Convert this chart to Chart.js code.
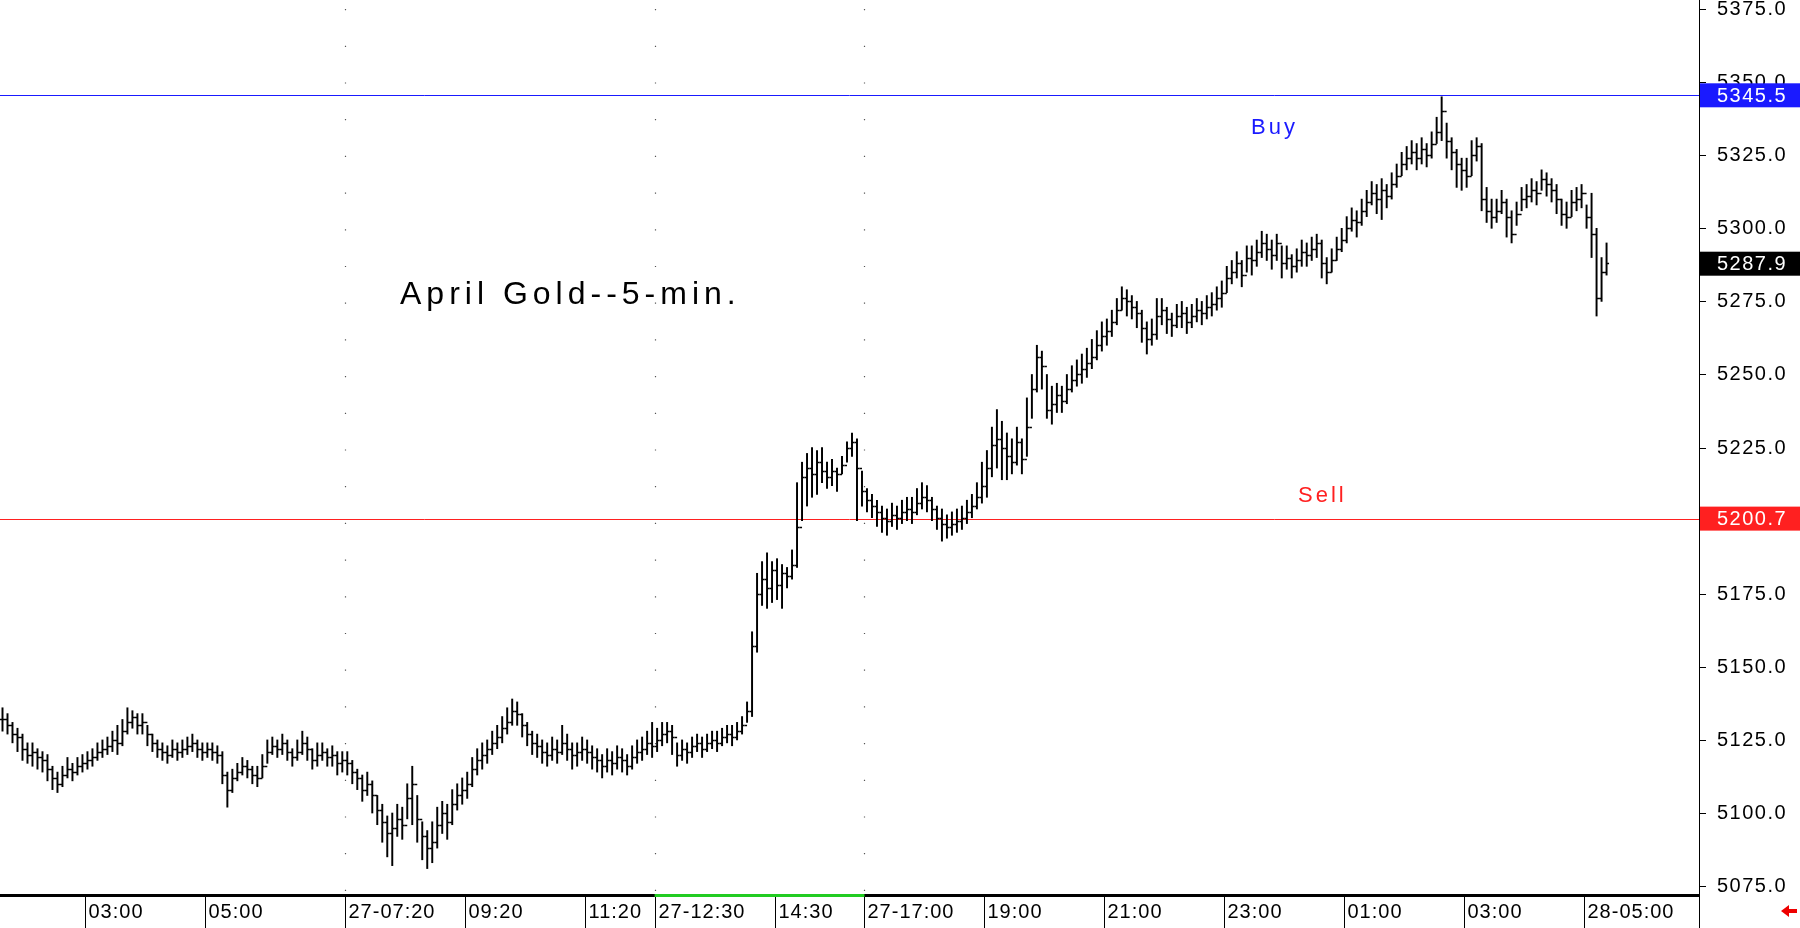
<!DOCTYPE html>
<html>
<head>
<meta charset="utf-8">
<script src="https://cdn.jsdelivr.net/npm/chart.js@4.4.1/dist/chart.umd.min.js"></script>
<style>
  html, body { margin: 0; padding: 0; background: #fff; }
  #wrap { width: 1800px; height: 928px; }
</style>
</head>
<body>
<div id="wrap"><canvas id="goldChart"></canvas></div>
<script>
// 5-minute bars
const closes = [
  5132,5130,5127,5126,5122,5120,5121,5119,5118,5115,5112,5110,5113,5115,5114,5116,5117,
  5118,5119,5121,5122,5123,5125,5124,5128,5131,5133,5130,5131,5127,5124,5122,5121,5120,5122,5121,5122,5123,5124,5122,5121,
  5122,5121,5120,5113,5108,5112,5114,5116,5115,5113,5112,5116,5121,5123,5122,5124,5121,5119,5121,5124,5122,5118,5120,5121,5119,5120,5117,5118,
  5117,5114,5112,5108,5110,5106,5101,5097,5093,5095,5098,5096,5105,5110,5098,5092,5088,5090,5096,5100,5097,5103,5106,5108,
  5110,5115,5118,5120,5122,5124,5126,5129,5131,5135,5134,5130,5127,5124,5123,5121,5120,5122,5121,5124,5122,5120,5121,5122,
  5121,5119,5118,5116,5118,5117,5119,5118,5116,5119,5121,5122,5124,5123,
  5125,5127,5128,5126,5120,5122,5121,5123,5124,5122,5124,5125,5124,5126,5127,5126,5128,5130,5135,
  5157,5175,5180,5177,5183,
  5178,5182,5181,5185,5198,5215,5218,5216,5220,5217,5215,5217,5216,5219,5225,5227,5218,5210,
  5207,5205,5203,5201,5200,5202,5201,5203,5204,5203,5206,5208,5207,5204,5201,5199,5198,5199,5200,5201,5203,5205,5208,5212,
  5218,5226,5228,5225,5222,5220,5227,5221,5232,5245,5256,5253,5238,5240,5243,5241,5245,5248,5250,5252,5254,5256,5260,5263,
  5265,5268,5272,5276,5275,5273,5271,5266,5262,5264,5270,5272,5269,5267,5270,5271,5268,5270,5272,5271,5273,5274,5276,5278,
  5283,5285,5288,5284,5290,5289,5292,5295,5293,5291,5295,5288,5290,5287,5289,5292,5291,5293,5295,5288,5285,5289,5293,5296,
  5300,5303,5302,5306,5309,5312,5310,5313,5311,5315,5318,5322,5324,5326,5324,5327,5325,5329,5333,5340,5330,5326,5322,5320,
  5318,5325,5328,5310,5306,5304,5306,5309,5304,5298,5305,5310,5311,5313,5312,5317,5315,5313,5310,5305,5304,5309,5310,5312,
  5304,5298,5276,5285,5288
];
const highs = [
  5136,5134,5131,5129,5127,5124,5124,5122,5121,5120,5116,5114,5116,5119,5117,5119,5120,
  5121,5122,5124,5125,5126,5128,5130,5132,5136,5135,5134,5134,5130,5127,5125,5124,5123,5125,5124,5125,5126,5127,5125,5124,
  5124,5124,5123,5121,5114,5115,5117,5119,5118,5116,5116,5120,5125,5126,5125,5127,5125,5122,5125,5128,5126,5122,5124,5124,5122,5123,5121,5121,
  5121,5118,5115,5113,5114,5111,5106,5103,5099,5100,5103,5102,5110,5116,5106,5097,5094,5097,5102,5104,5103,5108,5110,5112,
  5114,5119,5122,5124,5125,5128,5130,5133,5136,5139,5138,5134,5131,5128,5127,5125,5124,5126,5125,5130,5127,5124,5124,5126,
  5125,5123,5122,5120,5122,5121,5123,5122,5120,5123,5125,5126,5128,5131,
  5129,5131,5131,5130,5124,5125,5124,5126,5127,5126,5127,5128,5128,5129,5130,5130,5131,5133,5138,
  5162,5182,5186,5189,5186,
  5187,5185,5184,5190,5213,5220,5223,5225,5224,5225,5220,5221,5218,5222,5227,5230,5228,5217,
  5211,5209,5207,5205,5204,5206,5205,5207,5208,5208,5211,5213,5212,5208,5205,5204,5202,5203,5204,5205,5207,5209,5213,5220,
  5224,5232,5238,5234,5230,5228,5232,5228,5242,5250,5260,5258,5250,5246,5247,5246,5250,5253,5255,5257,5259,5262,5265,5268,
  5269,5272,5276,5280,5279,5277,5275,5272,5268,5269,5276,5276,5273,5271,5274,5275,5273,5274,5276,5275,5277,5278,5280,5282,
  5287,5289,5292,5289,5294,5294,5296,5299,5298,5296,5298,5294,5294,5291,5293,5296,5295,5297,5298,5296,5290,5293,5297,5300,
  5304,5307,5306,5310,5313,5316,5315,5317,5315,5319,5322,5326,5328,5330,5329,5331,5329,5333,5338,5345,5336,5331,5327,5324,
  5324,5330,5331,5329,5314,5310,5310,5313,5310,5306,5309,5314,5315,5317,5316,5320,5319,5317,5315,5310,5309,5313,5314,5315,
  5308,5312,5300,5290,5295
];
const lows = [
  5128,5127,5124,5121,5118,5117,5116,5115,5114,5111,5108,5107,5109,5112,5111,5113,5114,
  5115,5116,5118,5119,5120,5121,5120,5123,5127,5129,5127,5127,5123,5121,5119,5118,5117,5119,5118,5119,5120,5121,5119,5118,
  5119,5118,5117,5110,5102,5107,5111,5113,5112,5110,5109,5112,5117,5120,5119,5120,5118,5116,5118,5120,5118,5115,5116,5118,5116,5116,5113,5114,
  5113,5110,5108,5104,5106,5100,5096,5090,5085,5082,5092,5091,5098,5096,5090,5084,5081,5083,5088,5093,5091,5096,5101,5103,
  5105,5109,5113,5115,5117,5120,5122,5124,5127,5130,5130,5126,5123,5120,5119,5117,5116,5118,5117,5120,5118,5115,5116,5118,
  5117,5115,5114,5112,5114,5113,5115,5114,5113,5115,5117,5118,5120,5119,
  5121,5123,5124,5120,5116,5118,5117,5119,5121,5119,5121,5122,5121,5123,5124,5123,5125,5127,5131,
  5133,5155,5171,5170,5172,
  5173,5170,5177,5180,5184,5200,5205,5208,5209,5213,5211,5212,5210,5216,5220,5222,5200,5205,
  5203,5201,5198,5196,5195,5198,5197,5199,5200,5199,5202,5204,5203,5200,5197,5193,5194,5195,5196,5197,5199,5201,5204,5206,
  5208,5215,5218,5214,5214,5216,5219,5216,5222,5235,5244,5245,5235,5233,5237,5237,5240,5244,5246,5247,5249,5252,5255,5258,
  5260,5263,5267,5272,5270,5269,5266,5261,5257,5260,5262,5267,5264,5263,5266,5266,5264,5266,5268,5267,5269,5270,5272,5273,
  5278,5281,5283,5280,5285,5284,5287,5290,5289,5286,5289,5283,5286,5283,5285,5287,5287,5289,5290,5283,5281,5285,5289,5292,
  5295,5299,5297,5301,5304,5308,5305,5303,5307,5310,5314,5318,5320,5322,5320,5322,5321,5324,5329,5330,5324,5320,5314,5313,
  5314,5318,5323,5306,5302,5300,5302,5305,5297,5295,5301,5306,5307,5309,5308,5313,5311,5309,5305,5301,5300,5304,5306,5307,
  5300,5290,5270,5275,5284
];
const totalSlots = 340;
const timeLabelIdx = [17, 41, 69, 93, 117, 131, 155, 173, 197, 221, 245, 269, 293, 317];
const timeLabels = ['03:00','05:00','27-07:20','09:20','11:20','27-12:30','14:30','27-17:00','19:00','21:00','23:00','01:00','03:00','28-05:00'];
const sessionIdx = [69, 131, 173];
const priceTicks = [5375,5350,5325,5300,5275,5250,5225,5200,5175,5150,5125,5100,5075];
const buyLevel = 5345.5;
const sellLevel = 5200.7;
const lastPrice = 5287.9;

const labels = [];
for (let i = 0; i < totalSlots; i++) labels.push(i);
const ranges = lows.map((l, i) => [l, highs[i]]);

const FONT = '"Liberation Sans", Arial, sans-serif';

const goldPlugin = {
  id: 'goldPlugin',
  beforeDatasetsDraw(chart) {
    const { ctx, chartArea: a, scales: { x, y } } = chart;
    ctx.save();
    ctx.strokeStyle = '#555';
    ctx.lineWidth = 1.2;
    ctx.setLineDash([1.2, 35.5]);
    sessionIdx.forEach(i => {
      const px = Math.round(x.getPixelForValue(i) - 2.5) + 0.5;
      ctx.beginPath(); ctx.moveTo(px, a.top + 9); ctx.lineTo(px, a.bottom); ctx.stroke();
    });
    ctx.setLineDash([]);
    ctx.lineWidth = 1;
    [[buyLevel, '#1a1aff'], [sellLevel, '#ff2020']].forEach(([v, c]) => {
      const py = Math.round(y.getPixelForValue(v)) + 0.5;
      ctx.strokeStyle = c;
      ctx.beginPath(); ctx.moveTo(a.left, py); ctx.lineTo(a.right, py); ctx.stroke();
    });
    ctx.restore();
  },
  afterDatasetsDraw(chart) {
    const { ctx, chartArea: a, scales: { x, y } } = chart;
    ctx.save();
    ctx.strokeStyle = '#000';
    ctx.lineWidth = 1.3;
    closes.forEach((c, i) => {
      const px = x.getPixelForValue(i);
      const o = i > 0 ? closes[i - 1] : c;
      const oy = Math.round(y.getPixelForValue(o)) + 0.5;
      const cy = Math.round(y.getPixelForValue(c)) + 0.5;
      ctx.beginPath();
      ctx.moveTo(px - 2.5, oy); ctx.lineTo(px, oy);
      ctx.moveTo(px, cy); ctx.lineTo(px + 2.5, cy);
      ctx.stroke();
    });

    // texts in the plot
    ctx.textBaseline = 'middle';
    ctx.fillStyle = '#000';
    ctx.letterSpacing = '5px';
    ctx.font = '32px ' + FONT;
    ctx.fillText('April Gold--5-min.', 400, 295);
    ctx.letterSpacing = '3px';
    ctx.font = '22px ' + FONT;
    ctx.fillStyle = '#1a1aff';
    ctx.fillText('Buy', 1251, 128);
    ctx.fillStyle = '#ff2020';
    ctx.fillText('Sell', 1298, 496);

    // right price axis
    ctx.letterSpacing = '1.5px';
    ctx.strokeStyle = '#000';
    ctx.lineWidth = 1;
    ctx.beginPath(); ctx.moveTo(a.right + 0.5, 0); ctx.lineTo(a.right + 0.5, 928); ctx.stroke();
    ctx.font = '20px ' + FONT;
    ctx.fillStyle = '#000';
    priceTicks.forEach(v => {
      const py = Math.round(y.getPixelForValue(v)) + 0.5;
      ctx.beginPath(); ctx.moveTo(a.right, py); ctx.lineTo(a.right + 7, py); ctx.stroke();
      ctx.fillText(v.toFixed(1), a.right + 18, py);
    });
    [[buyLevel, '#1a1aff'], [sellLevel, '#ff2020'], [lastPrice, '#000']].forEach(([v, c]) => {
      const py = y.getPixelForValue(v);
      ctx.fillStyle = c;
      ctx.fillRect(a.right + 1, py - 12, 100, 24);
      ctx.fillStyle = '#fff';
      ctx.fillText(v.toFixed(1), a.right + 18, py + 1);
    });

    // bottom time axis
    ctx.fillStyle = '#000';
    ctx.fillRect(a.left, a.bottom, a.right - a.left, 3);
    const g0 = x.getPixelForValue(131) - 2.5, g1 = x.getPixelForValue(173) - 2.5;
    ctx.fillStyle = '#22cc22';
    ctx.fillRect(g0, a.bottom, g1 - g0, 3);
    ctx.fillStyle = '#000';
    ctx.font = '20px ' + FONT;
    ctx.letterSpacing = '1px';
    timeLabelIdx.forEach((i, k) => {
      const px = Math.round(x.getPixelForValue(i) - 2.5) + 0.5;
      ctx.beginPath(); ctx.moveTo(px, a.bottom + 3); ctx.lineTo(px, 928); ctx.stroke();
      ctx.fillText(timeLabels[k], px + 3, a.bottom + 18);
    });
    // small red arrow bottom right
    ctx.fillStyle = '#e00';
    ctx.beginPath();
    ctx.moveTo(1781, 911); ctx.lineTo(1789, 905); ctx.lineTo(1789, 909); ctx.lineTo(1797, 909);
    ctx.lineTo(1797, 913); ctx.lineTo(1789, 913); ctx.lineTo(1789, 917); ctx.closePath(); ctx.fill();
    ctx.restore();
  }
};

const ctx = document.getElementById('goldChart').getContext('2d');
const goldChart = new Chart(ctx, {
  type: 'bar',
  data: {
    labels: labels,
    datasets: [{
      data: ranges,
      backgroundColor: '#000',
      borderWidth: 0,
      barThickness: 1.3,
      grouped: false
    }]
  },
  options: {
    responsive: true,
    maintainAspectRatio: false,
    animation: false,
    layout: { padding: { left: 0, top: 0, right: 101, bottom: 34 } },
    plugins: { legend: { display: false }, tooltip: { enabled: false } },
    scales: {
      x: { display: false, offset: true },
      y: { display: false, min: 5072.3, max: 5378.1 }
    }
  },
  plugins: [goldPlugin]
});
</script>
</body>
</html>
